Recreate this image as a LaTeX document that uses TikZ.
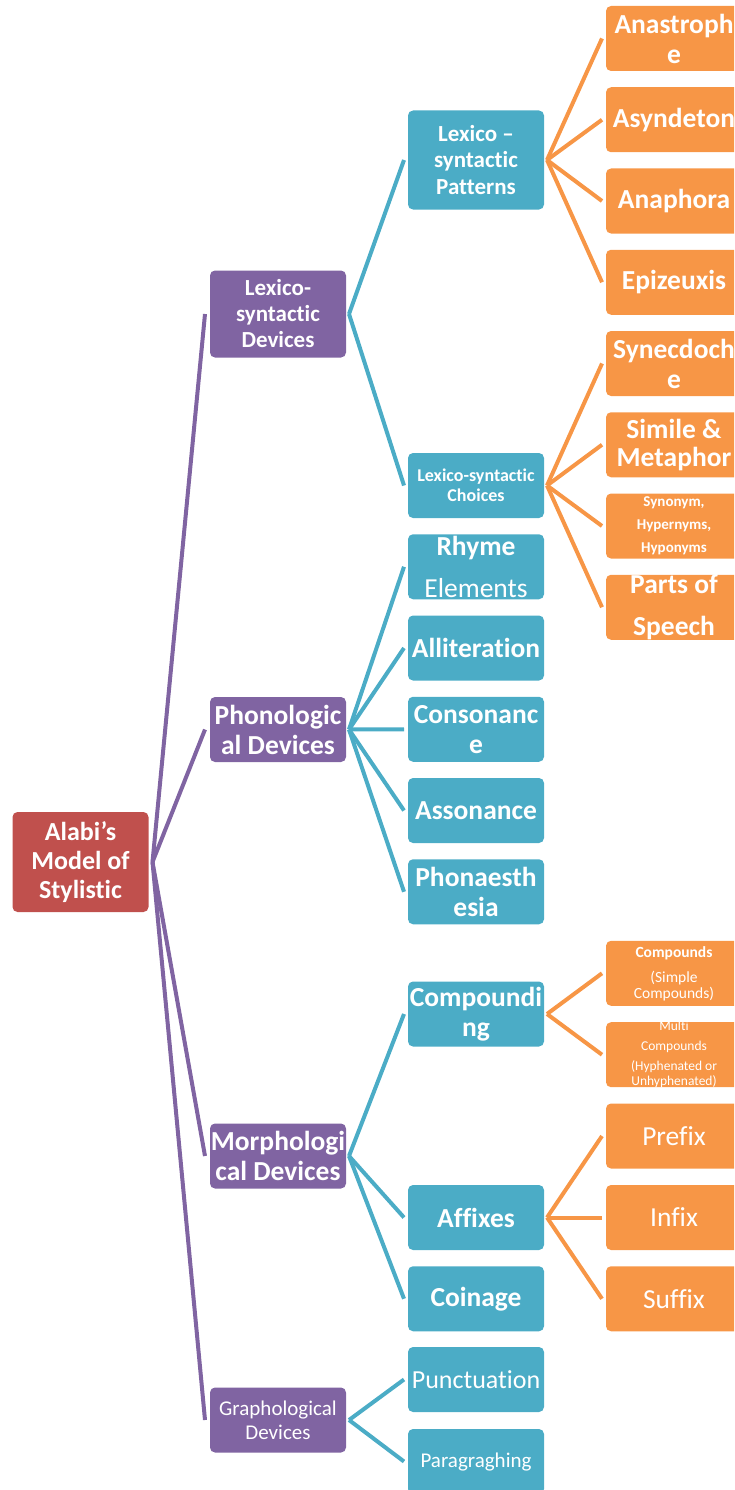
\documentclass[tikz,border=0pt]{standalone}
\usepackage{fontspec}
\setmainfont{Carlito}[Ligatures=NoCommon]
\definecolor{cRoot}{HTML}{C0504D}
\definecolor{cPur}{HTML}{8064A2}
\definecolor{cTeal}{HTML}{4BACC6}
\definecolor{cOr}{HTML}{F79646}
\newcommand{\fsz}[2]{\fontsize{#1}{#2}\selectfont}
\tikzset{
 box/.style={rounded corners=5pt, minimum width=136pt, minimum height=65pt, inner sep=0pt, outer sep=0pt},
 rootbox/.style={box, fill=cRoot, minimum height=100pt},
 pbox/.style={box, fill=cPur},
 tbox/.style={box, fill=cTeal},
 obox/.style={box, fill=cOr},
 lbl/.style={text=white, align=center, inner sep=0pt, outer sep=0pt},
 big/.style={lbl, font=\fsz{27.5}{30}\bfseries},
 bigr/.style={lbl, font=\fsz{27.5}{30}},
 conn/.style={line width=4pt},
 pl/.style={conn, cPur},
 tl/.style={conn, cTeal},
 ol/.style={conn, cOr},
}
\begin{document}
\begin{tikzpicture}[x=1pt,y=-1pt]
\useasboundingbox (0,0) rectangle (734,1490);
\clip (0,0) rectangle (734,1490);
% root
\node[rootbox, label={[lbl,font=\fsz{26}{29}\bfseries]center:{Alabi’s\\Model of\\Stylistic}}] (root) at (80.5,862) {};
% level 1
\node[pbox, minimum height=87pt, label={[lbl,font=\fsz{23}{26}\bfseries]center:{Lexico-\\syntactic\\Devices}}] (lsd) at (278,314) {};
\node[pbox, label={[big]center:{Phonologic\\al Devices}}] (pho) at (278,729.5) {};
\node[pbox, label={[big]center:{Morphologi\\cal Devices}}] (mor) at (278,1156) {};
\node[pbox, label={[lbl,font=\fsz{21}{24}]center:{Graphological\\Devices}}] (gra) at (278,1420) {};
% level 2
\node[tbox, minimum height=99pt, label={[lbl,font=\fsz{23}{26.5}\bfseries]center:{Lexico –\\syntactic\\Patterns}}] (lsp) at (476,160) {};
\node[tbox, label={[lbl,font=\fsz{18}{20}\bfseries]center:{Lexico-syntactic\\Choices}}] (lsc) at (476,485.5) {};
\node[tbox, label={[lbl,font=\fsz{27.5}{42}]center:{\textbf{Rhyme}\\Elements}}] (rhy) at (476,566.75) {};
\node[tbox, label={[big]center:{Alliteration}}] (all) at (476,648) {};
\node[tbox, label={[big]center:{Consonanc\\e}}] (con) at (476,729.25) {};
\node[tbox, label={[big]center:{Assonance}}] (ass) at (476,810.5) {};
\node[tbox, label={[big]center:{Phonaesth\\esia}}] (pha) at (476,891.75) {};
\node[tbox, label={[big]center:{Compoundi\\ng}}] (cpd) at (476,1014) {};
\node[tbox, label={[big]center:{Affixes}}] (aff) at (476,1217.5) {};
\node[tbox, label={[big]center:{Coinage}}] (coi) at (476,1298.75) {};
\node[tbox, label={[lbl,font=\fsz{26}{30}]center:{Punctuation}}] (pun) at (476,1379.5) {};
\node[tbox, label={[lbl,font=\fsz{21}{24}]center:{Paragraghing}}] (par) at (476,1461.5) {};
% level 3
\node[obox, label={[big]center:{Anastroph\\e}}] (ana) at (674,38.5) {};
\node[obox, label={[big]center:{Asyndeton}}] (asy) at (674,119.75) {};
\node[obox, label={[big]center:{Anaphora}}] (anp) at (674,201) {};
\node[obox, label={[big]center:{Epizeuxis}}] (epi) at (674,282.25) {};
\node[obox, label={[big]center:{Synecdoch\\e}}] (syn) at (674,363.5) {};
\node[obox, label={[lbl,font=\fsz{27.5}{28}\bfseries]center:{Simile \&\\Metaphor}}] (sim) at (674,444.75) {};
\node[obox, label={[lbl,font=\fsz{15}{23}\bfseries]center:{Synonym,\\Hypernyms,\\Hyponyms}}] (sny) at (674,526) {};
\node[obox, label={[lbl,font=\fsz{27.5}{42}\bfseries]center:{Parts of\\Speech}}] (pos) at (674,607.25) {};
\node[obox, label={[lbl,font=\fsz{15.5}{16}]center:{\textbf{Compounds}\\[9pt](Simple\\Compounds)}}] (cmp) at (674,973.3) {};
\node[obox, label={[lbl,font=\fsz{13.5}{15}]center:{Multi\\[5pt]Compounds\\[5pt](Hyphenated or\\Unhyphenated)}}] (mul) at (674,1054.7) {};
\node[obox, label={[bigr]center:{Prefix}}] (pre) at (674,1136) {};
\node[obox, label={[bigr]center:{Infix}}] (inf) at (674,1217.5) {};
\node[obox, label={[bigr]center:{Suffix}}] (suf) at (674,1298.75) {};
% connectors root -> level 1
\foreach \c in {lsd,pho,mor,gra}
  \draw[pl] ([xshift=4pt]root.east) -- ([xshift=-5pt]\c.west);
% level 1 -> level 2
\foreach \p/\c in {lsd/lsp,lsd/lsc,pho/rhy,pho/all,pho/con,pho/ass,pho/pha,mor/cpd,mor/aff,mor/coi,gra/pun,gra/par}
  \draw[tl] ([xshift=3pt]\p.east) -- ([xshift=-4pt]\c.west);
% level 2 -> level 3
\foreach \p/\c in {lsp/ana,lsp/asy,lsp/anp,lsp/epi,lsc/syn,lsc/sim,lsc/sny,lsc/pos,cpd/cmp,cpd/mul,aff/pre,aff/inf,aff/suf}
  \draw[ol] ([xshift=3pt]\p.east) -- ([xshift=-4pt]\c.west);
\end{tikzpicture}
\end{document}
